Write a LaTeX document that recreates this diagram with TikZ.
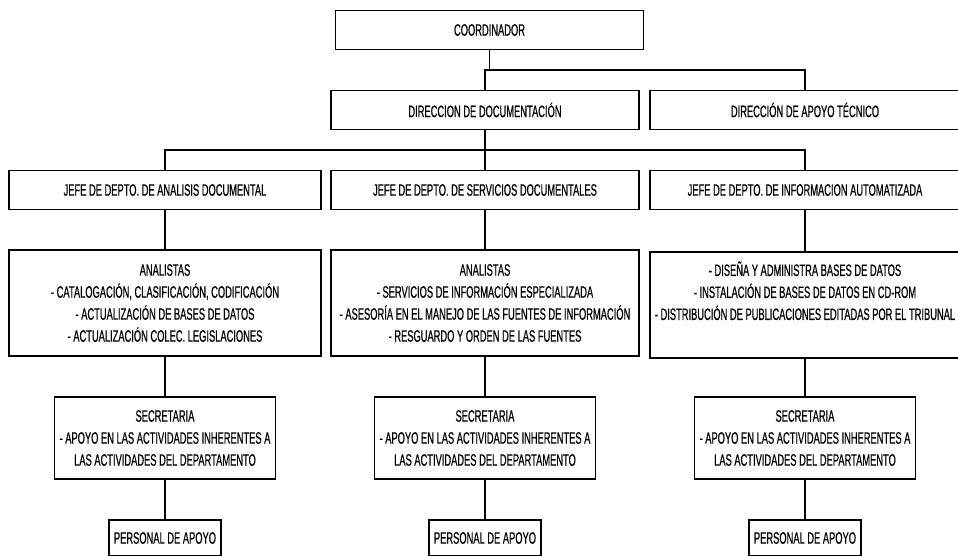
\documentclass[tikz,border=0pt]{standalone}
\usepackage{fontspec}
\usepackage{tikz}
\newfontfamily\narrowsans[FakeStretch=0.565,FakeBold=0.6]{Liberation Sans}
\newcommand{\unitfont}{\narrowsans\fontsize{16.5}{22}\selectfont}

\begin{document}
\begin{tikzpicture}[x=1pt,y=-1pt,line width=1.3pt,
  unit/.style={draw,rectangle,inner sep=1pt,align=center,font=\unitfont,minimum width=308pt,minimum height=39pt},
  tasks/.style={unit,minimum height=106pt},
  secre/.style={unit,minimum width=221pt,minimum height=82pt},
  staff/.style={unit,minimum width=112pt,minimum height=36pt}]
\useasboundingbox (0,0) rectangle (958,555);
\node[unit] (coord) at (489.5,30) {COORDINADOR};
\node[unit] (dirdoc) at (485,110) {DIRECCION DE DOCUMENTACIÓN};
\node[unit] (diratec) [minimum width=310pt] at (805,110) {DIRECCIÓN DE APOYO TÉCNICO};
\node[unit] (jefeanal) [minimum width=312pt] at (165,190) {JEFE DE DEPTO. DE ANALISIS DOCUMENTAL};
\node[unit] (jefeserv) at (485,190) {JEFE DE DEPTO. DE SERVICIOS DOCUMENTALES};
\node[unit] (jefeinfo) [minimum width=310pt] at (805,190) {JEFE DE DEPTO. DE INFORMACION AUTOMATIZADA};
\node[tasks] (analA) [minimum width=312pt] at (165,303) {ANALISTAS\\- CATALOGACIÓN, CLASIFICACIÓN, CODIFICACIÓN\\- ACTUALIZACIÓN DE BASES DE DATOS\\- ACTUALIZACIÓN COLEC. LEGISLACIONES};
\node[tasks] (analB) at (485,303) {ANALISTAS\\- SERVICIOS DE INFORMACIÓN ESPECIALIZADA\\- ASESORÍA EN EL MANEJO DE LAS FUENTES DE INFORMACIÓN\\- RESGUARDO Y ORDEN DE LAS FUENTES};
\node[tasks] (analC) [minimum width=310pt] at (805,305) {- DISEÑA Y ADMINISTRA BASES DE DATOS\\- INSTALACIÓN DE BASES DE DATOS EN CD-ROM\\- DISTRIBUCIÓN DE PUBLICACIONES EDITADAS POR EL TRIBUNAL\\\strut};
\node[secre] (secA) at (165,438) {SECRETARIA\\- APOYO EN LAS ACTIVIDADES INHERENTES A\\LAS ACTIVIDADES DEL DEPARTAMENTO};
\node[secre] (secB) at (485,438) {SECRETARIA\\- APOYO EN LAS ACTIVIDADES INHERENTES A\\LAS ACTIVIDADES DEL DEPARTAMENTO};
\node[secre] (secC) at (805,438) {SECRETARIA\\- APOYO EN LAS ACTIVIDADES INHERENTES A\\LAS ACTIVIDADES DEL DEPARTAMENTO};
\node[staff] (persA) at (165,538) {PERSONAL DE APOYO};
\node[staff] (persB) at (485,538) {PERSONAL DE APOYO};
\node[staff] (persC) at (805,538) {PERSONAL DE APOYO};
\coordinate (topbar) at (645,70);
\coordinate (midbar) at (485,150);
\draw (coord) -- (coord |- topbar);
\draw (dirdoc.north) |- (topbar) -| (diratec.north);
\draw (dirdoc) -- (jefeserv);
\draw (jefeanal.north) |- (midbar) -| (jefeinfo.north);
\path
(jefeanal) edge (analA)
(analA) edge (secA)
(secA) edge (persA)
(jefeserv) edge (analB)
(analB) edge (secB)
(secB) edge (persB)
(jefeinfo) edge (analC)
(analC) edge (secC)
(secC) edge (persC);
\end{tikzpicture}
\end{document}
